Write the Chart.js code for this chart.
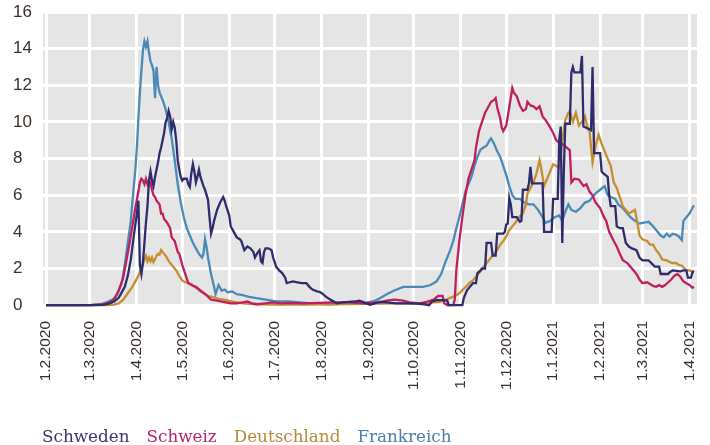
<!DOCTYPE html>
<html><head><meta charset="utf-8">
<script src="https://cdn.jsdelivr.net/npm/chart.js@4"></script>
<style>
html,body{margin:0;padding:0;background:#fff;}
#wrap{position:relative;width:710px;height:445px;}
#legend{position:absolute;left:42px;top:425px;display:flex;gap:17px;font-family:"DejaVu Serif",serif;font-size:16.8px;line-height:22px;white-space:nowrap;}
</style></head><body>
<div id="wrap"><canvas id="c" width="710" height="445"></canvas>
<div id="legend"></div></div>
<script>
// x tick labels (first of each month)
const tickLabels = ['1.2.2020','1.3.2020','1.4.2020','1.5.2020','1.6.2020','1.7.2020','1.8.2020','1.9.2020','1.10.2020','1.11.2020','1.12.2020','1.1.2021','1.2.2021','1.3.2021','1.4.2021'];
const yTicks = [0,2,4,6,8,10,12,14,16];
const seriesNames = ['Schweden','Schweiz','Deutschland','Frankreich'];
// [days since 1.2.2020, value]
const schweden = [[0,0],[30,0],[38,0.02],[42,0.1],[45,0.2],[48,0.4],[50,0.7],[52,1.0],[54,1.6],[56,2.5],[58,3.8],[59,4.4],[60,5.0],[61,5.7],[62,2.2],[63,1.7],[64,2.3],[65,3.4],[66,4.5],[67,5.4],[68,6.8],[69,7.3],[70,6.8],[71,6.5],[72,7.0],[73,7.4],[74,7.8],[75,8.3],[76,8.6],[77,9.0],[78,9.4],[79,10.0],[80,10.2],[81,10.6],[82,10.3],[83,9.6],[84,10.0],[85,9.7],[86,9.0],[87,7.9],[88,7.4],[89,7.0],[90,6.8],[91,6.9],[93,6.9],[94,6.6],[95,6.45],[96,7.2],[97,7.7],[98,7.3],[99,6.7],[100,7.0],[101,7.4],[102,7.0],[104,6.5],[105,6.3],[107,5.75],[108,4.8],[109,3.9],[110,4.2],[111,4.6],[113,5.2],[115,5.6],[117,5.9],[118,5.7],[119,5.4],[121,4.9],[122,4.3],[124,4.0],[126,3.7],[128,3.6],[129,3.5],[131,3.0],[133,3.2],[135,3.1],[137,2.9],[138,2.6],[140,2.9],[141,3.0],[142,2.4],[143,2.3],[144,2.9],[145,3.1],[147,3.1],[149,3.0],[150,2.6],[152,2.1],[154,1.9],[156,1.75],[158,1.5],[159,1.2],[161,1.25],[163,1.3],[166,1.25],[169,1.2],[172,1.2],[174,1.0],[176,0.85],[179,0.75],[181,0.72],[183,0.6],[185,0.45],[188,0.3],[192,0.1],[196,0.15],[200,0.18],[204,0.2],[207,0.25],[210,0.15],[214,0.02],[217,0.1],[220,0.18],[225,0.15],[231,0.1],[238,0.1],[245,0.08],[250,0.05],[253,0.0],[255,0.2],[258,0.27],[262,0.27],[265,0.25],[266,0.0],[275,0.0],[276,0.4],[278,0.8],[280,1.0],[282,1.2],[284,1.2],[285,1.75],[287,1.9],[288,2.0],[290,2.0],[291,3.4],[294,3.4],[295,2.7],[297,2.7],[298,3.9],[302,3.9],[303,4.0],[304,4.4],[305,4.45],[306,5.85],[307,5.5],[308,4.8],[311,4.8],[313,4.55],[314,4.6],[315,6.3],[318,6.3],[319,6.65],[320,7.55],[321,6.65],[328,6.65],[329,4.0],[334,4.0],[335,5.8],[338,5.8],[339,9.0],[340,9.75],[341,3.4],[342,7.2],[343,9.9],[346,9.9],[347,12.7],[348,13.0],[349,12.7],[353,12.7],[354,13.6],[355,9.75],[359,9.6],[360,9.55],[361,13.0],[362,8.3],[366,8.3],[367,7.3],[368,7.2],[371,7.0],[372,6.0],[373,5.4],[376,5.4],[377,4.3],[379,4.2],[381,4.2],[383,3.4],[385,3.2],[387,3.1],[390,3.0],[392,2.6],[394,2.45],[398,2.45],[401,2.2],[402,2.1],[405,2.1],[406,1.7],[411,1.7],[412,1.8],[414,1.9],[419,1.85],[421,1.9],[423,1.9],[424,1.5],[426,1.5],[427,1.8],[428,1.8]];
const schweiz = [[0,0],[30,0],[38,0.05],[42,0.15],[45,0.3],[48,0.8],[51,1.5],[53,2.4],[55,3.3],[57,4.3],[59,5.3],[61,6.2],[62,6.7],[63,6.9],[64,6.8],[65,6.6],[66,6.9],[67,6.6],[68,6.8],[69,6.7],[70,6.3],[71,6.0],[72,5.9],[73,5.7],[75,5.5],[76,5.0],[77,5.0],[78,4.7],[80,4.5],[82,4.2],[83,3.7],[85,3.5],[87,2.9],[88,2.8],[90,2.2],[92,1.7],[94,1.2],[96,1.1],[99,1.0],[102,0.8],[106,0.55],[109,0.3],[113,0.25],[117,0.18],[122,0.1],[126,0.1],[130,0.15],[133,0.2],[136,0.1],[139,0.05],[145,0.1],[150,0.15],[155,0.1],[160,0.12],[170,0.1],[180,0.12],[190,0.15],[200,0.15],[210,0.1],[220,0.15],[225,0.25],[230,0.3],[236,0.25],[240,0.15],[247,0.1],[252,0.2],[256,0.3],[259,0.5],[262,0.5],[263,0.1],[265,0.0],[269,0.0],[270,0.3],[271,1.9],[273,3.5],[275,4.8],[277,6.0],[279,6.9],[281,7.4],[283,7.9],[284,8.6],[286,9.5],[288,10.0],[290,10.5],[292,10.8],[294,11.1],[296,11.2],[297,11.3],[298,10.8],[300,10.2],[301,9.7],[302,9.5],[304,9.8],[306,10.8],[308,11.85],[309,11.6],[311,11.4],[313,10.9],[315,10.6],[317,10.7],[318,11.1],[320,10.9],[322,10.85],[324,10.7],[326,10.85],[328,10.3],[330,10.1],[333,9.7],[335,9.4],[337,9.0],[339,8.85],[341,8.8],[344,8.6],[346,8.45],[347,6.7],[349,6.9],[352,6.85],[355,6.5],[357,6.6],[359,6.2],[361,6.0],[363,5.6],[366,5.3],[368,4.9],[370,4.6],[372,4.0],[375,3.5],[377,3.2],[379,2.8],[381,2.45],[384,2.3],[386,2.1],[388,1.9],[390,1.7],[392,1.4],[394,1.2],[397,1.25],[399,1.15],[401,1.05],[403,1.0],[405,1.1],[407,1.0],[409,1.1],[411,1.25],[413,1.4],[415,1.6],[417,1.7],[419,1.55],[421,1.3],[423,1.2],[425,1.1],[427,0.95],[428,1.0]];
const deutschland = [[0,0],[40,0],[45,0.03],[48,0.1],[51,0.3],[54,0.65],[57,1.0],[59,1.3],[61,1.6],[63,2.0],[65,2.5],[66,2.7],[67,2.4],[68,2.6],[69,2.4],[70,2.6],[71,2.35],[72,2.5],[73,2.7],[74,2.8],[75,2.75],[76,3.0],[77,2.9],[78,2.8],[79,2.7],[80,2.55],[82,2.3],[84,2.1],[86,1.9],[88,1.6],[90,1.35],[92,1.25],[94,1.2],[96,1.15],[98,1.0],[100,0.9],[102,0.75],[104,0.65],[107,0.5],[110,0.45],[114,0.35],[119,0.27],[124,0.18],[130,0.1],[140,0.05],[150,0.03],[170,0.03],[190,0.05],[210,0.07],[230,0.1],[245,0.1],[255,0.15],[260,0.18],[264,0.3],[267,0.4],[270,0.5],[273,0.65],[276,0.9],[278,1.05],[280,1.25],[282,1.35],[284,1.55],[286,1.75],[288,1.95],[290,2.2],[292,2.4],[294,2.6],[296,2.8],[298,3.0],[300,3.3],[302,3.5],[304,3.75],[306,4.1],[308,4.3],[310,4.5],[313,4.85],[315,5.0],[317,5.5],[318,6.1],[320,6.4],[322,6.7],[324,7.2],[326,7.9],[327,7.5],[329,6.5],[331,6.9],[333,7.3],[335,7.7],[337,7.6],[339,7.5],[341,9.0],[343,10.1],[345,10.5],[346,10.6],[348,10.0],[350,10.5],[352,9.8],[354,10.0],[356,10.3],[358,9.6],[359,9.5],[361,7.8],[363,8.7],[365,9.3],[367,8.8],[369,8.4],[371,8.0],[373,7.6],[375,6.7],[377,6.4],[379,5.9],[381,5.4],[383,5.2],[385,5.0],[387,5.1],[389,5.2],[391,4.3],[392,3.8],[394,3.6],[397,3.5],[399,3.3],[401,3.3],[403,3.0],[405,2.8],[407,2.5],[410,2.45],[412,2.35],[414,2.3],[416,2.3],[418,2.2],[420,2.15],[423,1.9],[425,1.9],[427,1.85],[428,1.9]];
const frankreich = [[0,0],[20,0],[30,0.02],[36,0.05],[40,0.15],[44,0.3],[47,0.6],[50,1.2],[52,2.2],[54,3.4],[56,4.6],[57,5.6],[59,7.4],[60,8.6],[61,10.2],[62,11.6],[63,12.8],[64,13.9],[65,14.4],[66,14.1],[67,14.4],[68,13.8],[69,13.3],[70,13.1],[71,12.8],[72,11.3],[73,13.0],[74,12.0],[75,11.6],[77,11.2],[79,10.7],[81,10.0],[83,9.1],[85,7.9],[87,6.6],[89,5.6],[91,4.8],[93,4.2],[95,3.8],[97,3.4],[99,3.1],[101,2.8],[103,2.6],[104,2.8],[105,3.6],[106,3.2],[107,2.6],[109,1.7],[111,1.0],[112,0.6],[114,1.1],[116,0.8],[118,0.85],[120,0.7],[123,0.75],[126,0.6],[130,0.55],[134,0.45],[139,0.38],[145,0.3],[152,0.2],[160,0.2],[168,0.15],[175,0.1],[187,0.05],[195,0.08],[205,0.1],[212,0.15],[216,0.2],[220,0.35],[225,0.6],[230,0.8],[236,1.0],[242,1.0],[249,1.0],[254,1.1],[258,1.3],[261,1.7],[264,2.4],[267,3.0],[269,3.5],[271,4.2],[273,4.8],[275,5.5],[277,6.2],[279,6.6],[281,7.0],[283,7.6],[285,8.1],[287,8.5],[289,8.6],[291,8.7],[293,9.0],[294,9.1],[296,8.8],[298,8.4],[300,8.1],[302,7.6],[304,7.1],[306,6.5],[308,6.0],[310,5.8],[313,5.8],[316,5.6],[319,5.5],[322,5.5],[325,5.2],[328,4.8],[330,4.5],[333,4.6],[336,4.8],[339,4.9],[341,4.6],[343,5.1],[345,5.5],[347,5.2],[350,5.1],[353,5.3],[356,5.6],[359,5.7],[361,5.9],[363,6.1],[366,6.3],[369,6.5],[371,6.0],[373,5.9],[376,5.8],[378,5.5],[381,5.3],[383,5.1],[386,4.8],[389,4.6],[392,4.45],[395,4.5],[398,4.55],[401,4.3],[403,4.1],[406,3.8],[408,3.7],[410,3.9],[412,3.75],[414,3.9],[416,3.85],[418,3.75],[420,3.55],[421,4.6],[423,4.8],[425,5.0],[427,5.3],[428,5.45]];

const lineColors = ['#2f2c6d','#c01f5f','#c58e30','#4a8ab8'];
const legendColors = ['#3b3570','#b0276a','#b88a3c','#4d7fae'];

function dayOf(label){const p=label.split('.').map(Number);return Math.round((Date.UTC(p[2],p[1]-1,p[0])-Date.UTC(2020,1,1))/86400000);}
const tickDays = tickLabels.map(dayOf);
const toXY = arr => arr.map(([x,y])=>({x,y}));
const allSeries = [schweden,schweiz,deutschland,frankreich];

// gray plot background painted behind whatever (grid) is already drawn
const bgPlugin = {id:'bg',beforeDatasetsDraw(chart){const a=chart.chartArea,ctx=chart.ctx;ctx.save();ctx.globalCompositeOperation='destination-over';ctx.fillStyle='#e5e5e5';ctx.fillRect(a.left,a.top,a.right-a.left,a.bottom-a.top);ctx.restore();}};

new Chart(document.getElementById('c'),{
  type:'line',
  data:{datasets:allSeries.map((s,i)=>({label:seriesNames[i],data:toXY(s),borderColor:lineColors[i],borderWidth:2.3,pointRadius:0,tension:0,fill:false}))},
  options:{
    responsive:false,animation:false,
    layout:{padding:{left:13,right:13,top:12,bottom:0}},
    plugins:{legend:{display:false},tooltip:{enabled:false}},
    scales:{
      x:{type:'linear',min:-2,max:430,
        afterBuildTicks:s=>{s.ticks=tickDays.map(v=>({value:v}));},
        afterFit:s=>{s.height=138;s.paddingLeft=0;s.paddingRight=0;},
        grid:{display:true,drawOnChartArea:true,color:'#ffffff',lineWidth:3,drawTicks:false},border:{display:false},
        ticks:{autoSkip:false,maxRotation:90,minRotation:90,padding:14,color:'#3a302b',font:{family:'"Liberation Sans", Arial, sans-serif',size:15.5},
          callback:(v)=>{const i=tickDays.indexOf(v);return i>=0?tickLabels[i]:'';}}},
      y:{min:-0.1,max:16,
        afterBuildTicks:s=>{s.ticks=yTicks.map(v=>({value:v}));},
        afterFit:s=>{s.width=30;s.paddingTop=0;s.paddingBottom=0;},
        grid:{display:true,drawOnChartArea:true,color:'#ffffff',lineWidth:3,drawTicks:false},border:{display:false},
        ticks:{crossAlign:'far',padding:10,color:'#3a302b',font:{family:'"Liberation Sans", Arial, sans-serif',size:17}}}
    }
  },
  plugins:[bgPlugin]
});
const lg=document.getElementById('legend');
seriesNames.forEach((n,i)=>{const s=document.createElement('span');s.textContent=n;s.style.color=legendColors[i];lg.appendChild(s);});
</script>
</body></html>
